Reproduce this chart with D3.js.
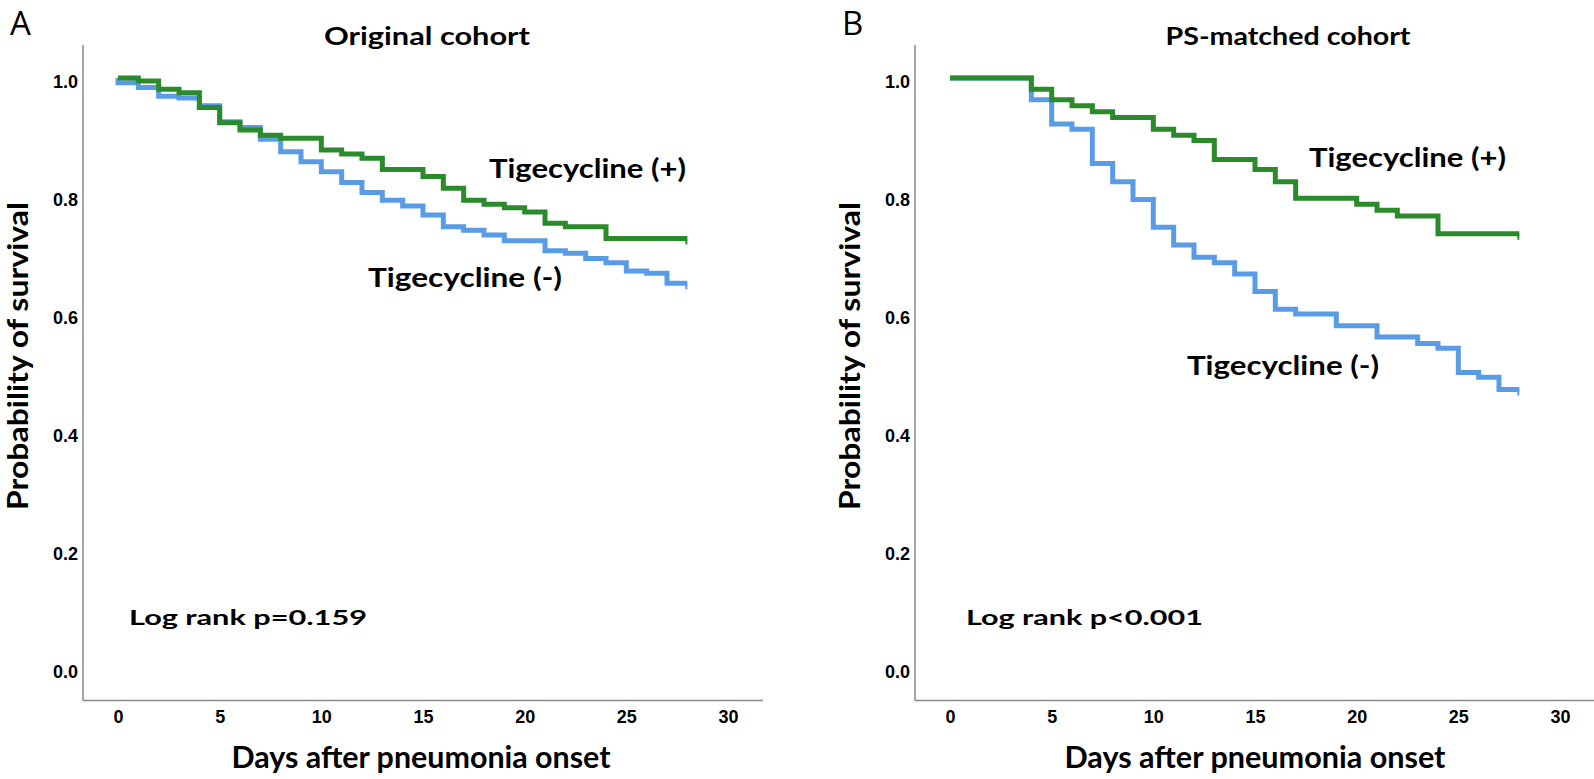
<!DOCTYPE html>
<html>
<head>
<meta charset="utf-8">
<script src="https://cdn.jsdelivr.net/npm/d3@7"></script>
<style>
  html, body { margin: 0; padding: 0; background: #fff; }
  svg { display: block; }
  .tick text { font-family: "Liberation Sans", Arial, sans-serif; font-weight: bold; font-size: 18px; fill: #000; }
  .lbl { font-family: Lato, "Open Sans", sans-serif; font-weight: bold; fill: #000; }
</style>
</head>
<body>
<svg id="chart" width="1594" height="779"></svg>
<script>
// panel A - original cohort
const aPlusDays = [0, 1, 2, 3, 4, 5, 6, 7, 8, 10, 11, 12, 13, 15, 16, 17, 18, 19, 20, 21, 22, 24];
const aPlusSurv = [1.0, 0.995, 0.981, 0.975, 0.950, 0.924, 0.912, 0.903, 0.898, 0.878, 0.871, 0.864, 0.845, 0.833, 0.813, 0.793, 0.786, 0.780, 0.773, 0.754, 0.748, 0.728];
const aMinusDays = [0, 0, 1, 2, 3, 4, 5, 6, 7, 8, 9, 10, 11, 12, 13, 14, 15, 16, 17, 18, 19, 21, 22, 23, 24, 25, 26, 27];
const aMinusSurv = [1.0, 0.992, 0.984, 0.969, 0.966, 0.953, 0.926, 0.916, 0.896, 0.875, 0.858, 0.841, 0.823, 0.806, 0.793, 0.783, 0.768, 0.748, 0.742, 0.734, 0.724, 0.707, 0.703, 0.694, 0.687, 0.673, 0.669, 0.652];

// panel B - PS-matched cohort
const bPlusDays = [0, 4, 5, 6, 7, 8, 10, 11, 12, 13, 15, 16, 17, 20, 21, 22, 24];
const bPlusSurv = [1.0, 0.981, 0.963, 0.953, 0.943, 0.933, 0.913, 0.903, 0.894, 0.862, 0.845, 0.824, 0.796, 0.786, 0.776, 0.766, 0.736];
const bMinusDays = [0, 4, 5, 6, 7, 8, 9, 10, 11, 12, 13, 14, 15, 16, 17, 19, 21, 23, 24, 25, 26, 27];
const bMinusSurv = [1.0, 0.963, 0.922, 0.913, 0.855, 0.824, 0.794, 0.747, 0.717, 0.696, 0.687, 0.668, 0.638, 0.608, 0.600, 0.580, 0.561, 0.550, 0.542, 0.501, 0.493, 0.472];

const followUpEnd = 28;
const xTicks = [0, 5, 10, 15, 20, 25, 30];
const yTicks = [0.0, 0.2, 0.4, 0.6, 0.8, 1.0];

const panels = [
  { letter: "A", title: "Original cohort", logrank: "Log rank p=0.159",
    plus: [aPlusDays, aPlusSurv], minus: [aMinusDays, aMinusSurv] },
  { letter: "B", title: "PS-matched cohort", logrank: "Log rank p<0.001",
    plus: [bPlusDays, bPlusSurv], minus: [bMinusDays, bMinusSurv] }
];

const GREEN = "#2b8a2b", BLUE = "#5a9be6";
const svg = d3.select("#chart");

const x = d3.scaleLinear().domain([0, 30]).range([118, 728]);
const y = d3.scaleLinear().domain([0, 1]).range([668, 78]);

const stepLine = d3.line()
  .x(d => x(d[0]))
  .y(d => y(d[1]))
  .curve(d3.curveStepAfter);

function toPoints(days, surv) {
  const pts = days.map((d, i) => [d, surv[i]]);
  pts.push([followUpEnd, surv[surv.length - 1]]);
  return pts;
}

// layout per panel (pixels), the second panel is shifted right
const layout = [
  { dx: 0, title: [427, 45, 206], plusLbl: [489, 178, 197], minusLbl: [368, 287, 194], log: [129, 625, 238], xTitle: [421, 768, 379] },
  { dx: 832, title: [456, 45, 245], plusLbl: [477, 167, 197], minusLbl: [355, 375, 192], log: [134, 625, 237], xTitle: [423, 768, 381] }
];

panels.forEach((p, i) => {
  const L = layout[i];
  const g = svg.append("g").attr("transform", `translate(${L.dx},0)`);

  // axis frame
  g.append("line").attr("x1", 83).attr("x2", 83).attr("y1", 45).attr("y2", 700.5)
    .attr("stroke", "#8a8a8a").attr("stroke-width", 1.5);
  g.append("line").attr("x1", 83).attr("x2", 763).attr("y1", 700.5).attr("y2", 700.5)
    .attr("stroke", "#8a8a8a").attr("stroke-width", 1.5);

  const xAxis = g.append("g").attr("transform", "translate(0,700)")
    .call(d3.axisBottom(x).tickValues(xTicks).tickSize(0).tickPadding(10).tickFormat(d3.format("d")));
  xAxis.select(".domain").remove();

  const yAxis = g.append("g").attr("transform", "translate(83,0)")
    .call(d3.axisLeft(y).tickValues(yTicks).tickSize(0).tickPadding(5).tickFormat(d3.format(".1f")));
  yAxis.select(".domain").remove();
  yAxis.selectAll("text").attr("dy", "0.5em");

  // curves: blue under green
  const minusPts = toPoints(p.minus[0], p.minus[1]);
  const plusPts = toPoints(p.plus[0], p.plus[1]);
  g.append("path").attr("d", stepLine(minusPts))
    .attr("fill", "none").attr("stroke", BLUE).attr("stroke-width", 5);
  g.append("path").attr("d", stepLine(plusPts))
    .attr("fill", "none").attr("stroke", GREEN).attr("stroke-width", 5);

  // censor ticks at end of follow-up
  [[plusPts, GREEN], [minusPts, BLUE]].forEach(([pts, c]) => {
    const last = pts[pts.length - 1];
    g.append("line")
      .attr("x1", x(last[0]) - 1).attr("x2", x(last[0]) - 1)
      .attr("y1", y(last[1])).attr("y2", y(last[1]) + 6)
      .attr("stroke", c).attr("stroke-width", 2);
  });

  // texts
  const txt = (s, pos, size) => g.append("text").attr("class", "lbl")
    .attr("x", pos[0]).attr("y", pos[1]).attr("font-size", size)
    .attr("textLength", pos[2]).attr("lengthAdjust", "spacingAndGlyphs").text(s);

  g.append("text").attr("x", 10).attr("y", 35)
    .attr("font-family", "'Open Sans', sans-serif").attr("font-size", 33)
    .text(p.letter);

  g.append("text").attr("class", "lbl").attr("x", L.title[0]).attr("y", L.title[1])
    .attr("text-anchor", "middle").attr("font-size", 25)
    .attr("textLength", L.title[2]).attr("lengthAdjust", "spacingAndGlyphs").text(p.title);

  txt("Tigecycline (+)", L.plusLbl, 26);
  txt("Tigecycline (-)", L.minusLbl, 26);
  txt(p.logrank, L.log, 21);

  g.append("text").attr("class", "lbl").attr("x", L.xTitle[0]).attr("y", L.xTitle[1])
    .attr("text-anchor", "middle").attr("font-size", 30)
    .attr("textLength", L.xTitle[2]).attr("lengthAdjust", "spacingAndGlyphs")
    .text("Days after pneumonia onset");

  g.append("text").attr("class", "lbl")
    .attr("transform", "translate(28,356) rotate(-90)")
    .attr("text-anchor", "middle").attr("font-size", 28)
    .attr("textLength", 308).attr("lengthAdjust", "spacingAndGlyphs")
    .text("Probability of survival");
});
</script>
</body>
</html>
